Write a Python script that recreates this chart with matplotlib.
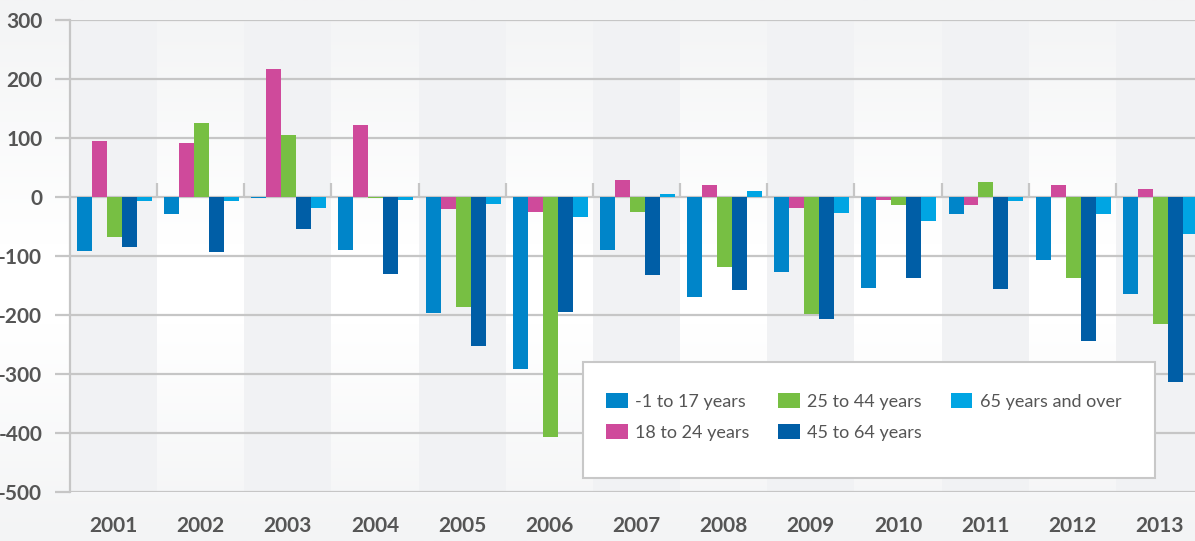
import numpy as np
import matplotlib
matplotlib.use("Agg")
import matplotlib.pyplot as plt
from matplotlib.colors import LinearSegmentedColormap
from matplotlib.patches import Rectangle

years = ["2001", "2002", "2003", "2004", "2005", "2006", "2007",
         "2008", "2009", "2010", "2011", "2012", "2013"]
series_names = ["-1 to 17 years", "18 to 24 years", "25 to 44 years",
                "45 to 64 years", "65 years and over"]
age_0_17 = [-91, -28, -1, -89, -196, -291, -89, -169, -127, -154, -28, -106, -164]
age_18_24 = [95, 92, 217, 122, -20, -25, 29, 20, -18, -5, -13, 20, 14]
age_25_44 = [-67, 125, 105, -1, -186, -406, -25, -118, -199, -13, 25, -138, -215]
age_45_64 = [-84, -94, -54, -130, -252, -195, -132, -158, -207, -137, -156, -244, -313]
age_65_up = [-6, -6, -18, -5, -12, -34, 5, 10, -27, -40, -6, -28, -62]
series_values = [age_0_17, age_18_24, age_25_44, age_45_64, age_65_up]
colors = ["#0085C9", "#CF4A9B", "#77BF43", "#005EA6", "#00A5E3"]
y_ticks = [300, 200, 100, 0, -100, -200, -300, -400, -500]

plt.rcParams['font.family'] = ['Lato', 'DejaVu Sans']

W, H = 1195, 541
fig = plt.figure(figsize=(W / 100, H / 100), dpi=100)

# background gradient
bg = fig.add_axes([0, 0, 1, 1], zorder=-10)
cmap = LinearSegmentedColormap.from_list(
    "bg", [(0.0, "#F3F4F5"), (0.45, "#FFFFFF"), (0.6, "#FFFFFF"), (1.0, "#F3F4F5")])
grad = np.linspace(0, 1, 256).reshape(-1, 1)
bg.imshow(grad, aspect="auto", cmap=cmap, extent=[0, 1, 0, 1], origin="upper")
bg.axis("off")

left, right = 70 / W, 1203 / W
bottom, top = (H - 492) / H, (H - 20) / H
ax = fig.add_axes([left, bottom, right - left, top - bottom])
ax.set_facecolor("none")

n = len(years)
x = np.arange(n)
bw = 0.172
for i, (name, vals, c) in enumerate(zip(series_names, series_values, colors)):
    ax.bar(x + (i - 2) * bw + 0.01, vals, width=bw, color=c, label=name, zorder=3,
           linewidth=0)

for i in range(0, n, 2):
    ax.axvspan(i - 0.5, i + 0.5, color="#F1F2F4", zorder=0, lw=0)

ax.set_xlim(-0.5, n - 0.5)
ax.set_ylim(-500, 300)
ax.set_yticks(y_ticks)
ax.set_yticklabels([str(v) for v in y_ticks])
ax.yaxis.grid(True, color="#C6C6C6", lw=1.6, zorder=1)
ax.set_axisbelow(True)
ax.tick_params(axis="y", length=11, width=1.6, color="#C6C6C6", pad=9,
               labelsize=15, labelcolor="#555555")
for lab in ax.get_yticklabels():
    lab.set_fontweight("bold")

ax.set_xticks(x)
ax.set_xticklabels(years)
ax.tick_params(axis="x", length=0, pad=17, labelsize=15, labelcolor="#555555")
for lab in ax.get_xticklabels():
    lab.set_fontweight("bold")

for s in ["top", "right", "bottom"]:
    ax.spines[s].set_visible(False)
ax.spines["left"].set_color("#C6C6C6")
ax.spines["left"].set_linewidth(1.6)

# boundary ticks on the zero line
sec = ax.secondary_xaxis(0.625)
sec.set_xticks(np.arange(n - 1) + 0.5)
sec.tick_params(axis="x", length=10, width=1.6, color="#C6C6C6", labelbottom=False,
                direction="out")
sec.set_xticklabels([])
sec.spines["bottom"].set_visible(False)
sec.spines["top"].set_visible(False)

# legend box
box = Rectangle((583 / W, (H - 478) / H), 572 / W, 116 / H, transform=fig.transFigure,
                facecolor="white", edgecolor="#C8C8C8", lw=1.5, zorder=20)
fig.patches.append(box)

leg = fig.legend(loc="upper left", bbox_to_anchor=(606 / W, 1 - 393 / H), ncol=3,
                 frameon=False, fontsize=13, handlelength=1.2, handleheight=0.9,
                 handletextpad=0.4, columnspacing=1.6, labelspacing=0.8,
                 borderpad=0, borderaxespad=0)
leg.set_zorder(30)
for t in leg.get_texts():
    t.set_color("#555555")

fig.savefig("out.png", dpi=100)
